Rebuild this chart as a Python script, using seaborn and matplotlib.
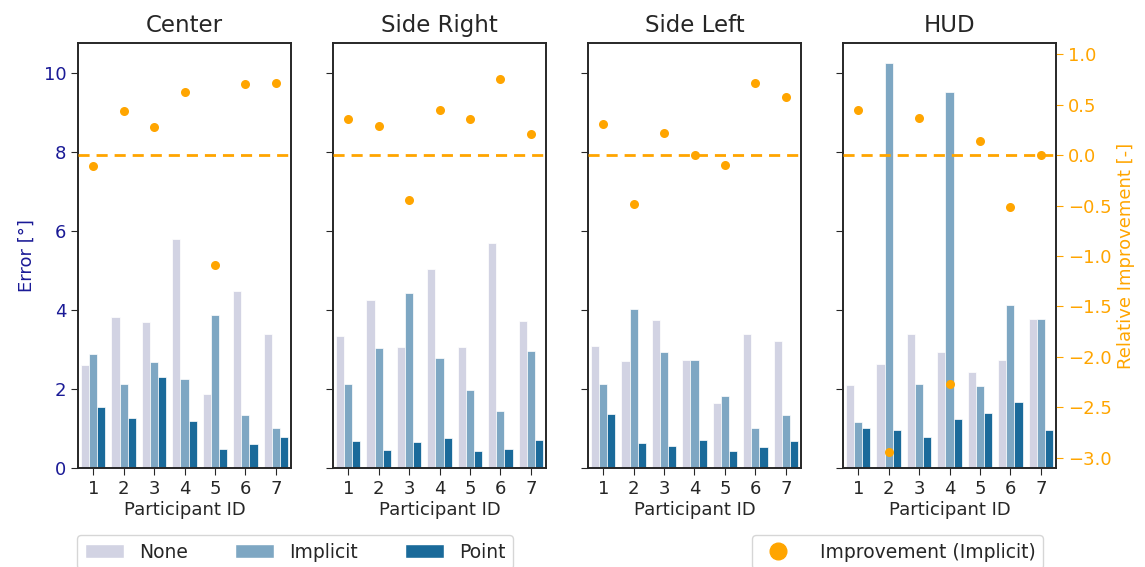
import numpy as np
import pandas as pd
import matplotlib
matplotlib.use("Agg")
import matplotlib.pyplot as plt
import seaborn as sns
from matplotlib.patches import Patch
from matplotlib.lines import Line2D

panels = ["Center", "Side Right", "Side Left", "HUD"]
participants = ["1", "2", "3", "4", "5", "6", "7"]
conditions = ["None", "Implicit", "Point"]

center_none = [2.60, 3.82, 3.70, 5.80, 1.86, 4.47, 3.38]
center_implicit = [2.89, 2.13, 2.68, 2.24, 3.86, 1.35, 1.01]
center_point = [1.54, 1.26, 2.30, 1.18, 0.47, 0.61, 0.79]
center_improve = [-0.11, 0.44, 0.28, 0.62, -1.09, 0.70, 0.71]

right_none = [3.33, 4.24, 3.05, 5.04, 3.05, 5.69, 3.72]
right_implicit = [2.13, 3.04, 4.43, 2.79, 1.97, 1.45, 2.95]
right_point = [0.68, 0.45, 0.66, 0.75, 0.43, 0.49, 0.71]
right_improve = [0.36, 0.29, -0.45, 0.45, 0.36, 0.75, 0.21]

left_none = [3.09, 2.71, 3.75, 2.74, 1.65, 3.40, 3.21]
left_implicit = [2.13, 4.03, 2.93, 2.73, 1.81, 1.01, 1.33]
left_point = [1.36, 0.62, 0.56, 0.71, 0.43, 0.54, 0.68]
left_improve = [0.31, -0.48, 0.22, 0.0, -0.10, 0.71, 0.58]

hud_none = [2.10, 2.62, 3.38, 2.93, 2.43, 2.73, 3.76]
hud_implicit = [1.16, 10.24, 2.13, 9.52, 2.08, 4.13, 3.76]
hud_point = [1.01, 0.95, 0.78, 1.25, 1.39, 1.68, 0.95]
hud_improve = [0.45, -2.94, 0.37, -2.27, 0.14, -0.51, 0.0]

errors = {
    "Center": (center_none, center_implicit, center_point),
    "Side Right": (right_none, right_implicit, right_point),
    "Side Left": (left_none, left_implicit, left_point),
    "HUD": (hud_none, hud_implicit, hud_point),
}
improvements = {
    "Center": center_improve,
    "Side Right": right_improve,
    "Side Left": left_improve,
    "HUD": hud_improve,
}

sns.set_style("ticks")
plt.rcParams["font.family"] = ["DejaVu Sans"]

palette = sns.color_palette("PuBu", 3)
orange = "#FFA500"
navy = "#1a1a96"
fs = 13

fig = plt.figure(figsize=(11.45, 5.67), dpi=100)
W, H = 1145, 567
lefts = [78, 333, 588, 843]
ax_w = 213
ax_top, ax_bot = 43, 468

for i, name in enumerate(panels):
    ax = fig.add_axes([lefts[i] / W, 1 - ax_bot / H, ax_w / W, (ax_bot - ax_top) / H])
    vals = errors[name]
    rows = []
    for c, v in zip(conditions, vals):
        for p, e in zip(participants, v):
            rows.append({"pid": p, "cond": c, "err": e})
    df = pd.DataFrame(rows)
    sns.barplot(data=df, x="pid", y="err", hue="cond", order=participants,
                hue_order=conditions, palette=palette, ax=ax, legend=False,
                edgecolor="white", linewidth=0.5, errorbar=None)
    ax.set_ylim(0, 10.75)
    ax.set_yticks([0, 2, 4, 6, 8, 10])
    ax.set_title(name, fontsize=16.5, pad=8)
    ax.set_xlabel("Participant ID", fontsize=fs, labelpad=2)
    ax.tick_params(axis="both", labelsize=fs, length=5)
    if i == 0:
        ax.set_ylabel("Error [°]", fontsize=fs, color=navy, labelpad=6)
        ax.tick_params(axis="y", labelcolor=navy)
    else:
        ax.set_ylabel("")
        ax.set_yticklabels([])
    for sp in ax.spines.values():
        sp.set_visible(True)
        sp.set_linewidth(1.2)

    ax2 = ax.twinx()
    dfi = pd.DataFrame({"pid": participants, "imp": improvements[name]})
    sns.stripplot(data=dfi, x="pid", y="imp", order=participants, ax=ax2,
                  jitter=False, color=orange, size=6.5, zorder=5)
    ax2.axhline(0, color=orange, ls="--", lw=2, dashes=(4, 2.5), zorder=4)
    ax2.set_ylim(-3.1, 1.11)
    ax2.set_xlim(ax.get_xlim())
    if i == 3:
        ax2.set_ylabel("Relative Improvement [-]", fontsize=fs, color=orange)
        ax2.tick_params(axis="y", colors=orange, labelsize=fs, length=5)
        ax2.set_yticks([1.0, 0.5, 0.0, -0.5, -1.0, -1.5, -2.0, -2.5, -3.0])
    else:
        ax2.set_ylabel("")
        ax2.set_yticks([])
    for sp in ax2.spines.values():
        sp.set_linewidth(1.2)

handles1 = [Patch(facecolor=sns.desaturate(c, 0.75), label=l) for c, l in zip(palette, conditions)]
fig.legend(handles=handles1, loc="upper left", bbox_to_anchor=(77 / W, 1 - 535 / H),
           ncol=3, fontsize=13.5, frameon=True, borderaxespad=0, columnspacing=2.5,
           handlelength=2.1)
handles2 = [Line2D([], [], marker="o", ls="none", color=orange, markersize=12,
                   label="Improvement (Implicit)")]
fig.legend(handles=handles2, loc="upper left", bbox_to_anchor=(752 / W, 1 - 535 / H),
           fontsize=13.5, frameon=True, borderaxespad=0, handletextpad=1.2)

fig.savefig("out.png", dpi=100)
